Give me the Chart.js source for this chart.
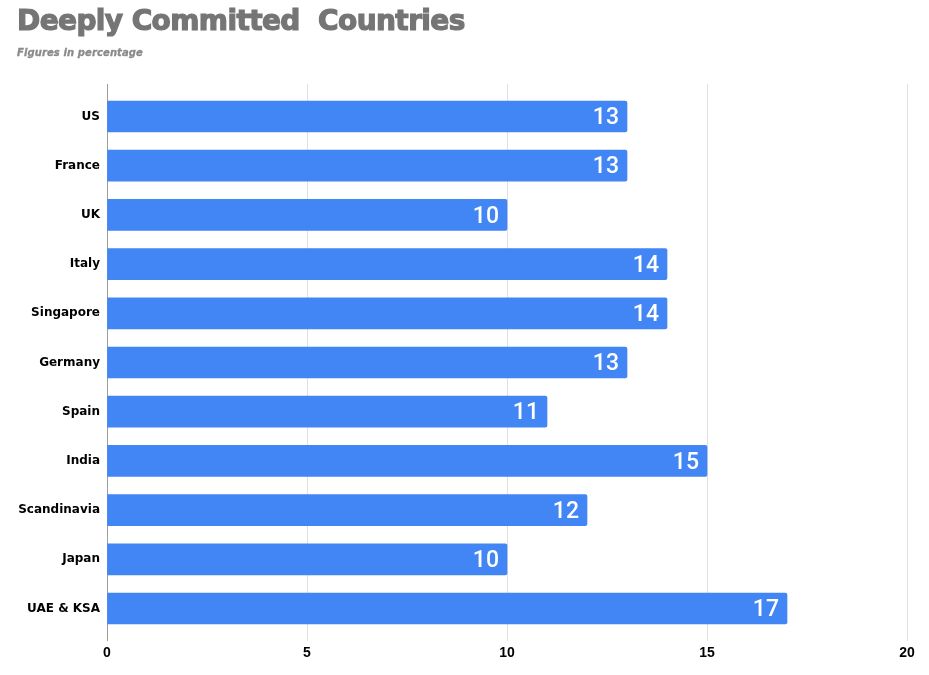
<!DOCTYPE html>
<html>
<head>
<meta charset="utf-8">
<script src="https://cdn.jsdelivr.net/npm/chart.js@4"></script>
<style>
    html, body { margin: 0; padding: 0; background: #fff; }
    #wrap { position: relative; width: 929px; height: 675px; }
    #title { position: absolute; left: 17px; top: 4px; font: bold 28px 'DejaVu Sans'; color: #757575; letter-spacing: -0.6px; white-space: pre; -webkit-text-stroke: 1.2px #757575; }
    #subtitle { position: absolute; left: 17px; top: 47px; font: italic bold 10px 'DejaVu Sans'; color: #8a8a8a; letter-spacing: 0.1px; -webkit-text-stroke: 0.3px #8a8a8a; }
    canvas { position: absolute; left: 0; top: 0; }
</style>
</head>
<body>
<div id="wrap">
    <canvas id="chart" width="929" height="675"></canvas>
    <div id="title">Deeply Committed  Countries</div>
    <div id="subtitle">Figures in percentage</div>
</div>
<script>
// chart data
const categories = ['US', 'France', 'UK', 'Italy', 'Singapore', 'Germany', 'Spain', 'India', 'Scandinavia', 'Japan', 'UAE & KSA'];
const values = [13, 13, 10, 14, 14, 13, 11, 15, 12, 10, 17];
const xTicks = [0, 5, 10, 15, 20];

// white value labels at the inner end of each bar
const barLabels = {
    id: 'barLabels',
    afterDatasetsDraw(chart) {
        const ctx = chart.ctx;
        const meta = chart.getDatasetMeta(0);
        ctx.save();
        ctx.fillStyle = '#fff';
        ctx.font = '500 23px Roboto';
        ctx.textAlign = 'right';
        ctx.textBaseline = 'middle';
        meta.data.forEach((bar, i) => {
            ctx.fillText(values[i], bar.x - 8, bar.y + 2);
        });
        ctx.restore();
    }
};

new Chart(document.getElementById('chart'), {
    type: 'bar',
    data: {
        datasets: [{
            data: categories.map((c, i) => ({ x: values[i], y: i })),
            backgroundColor: '#4285f4',
            borderWidth: 0,
            borderRadius: 2,
            borderSkipped: 'left',
            barThickness: 31
        }]
    },
    options: {
        indexAxis: 'y',
        responsive: false,
        animation: false,
        layout: { padding: { left: 0, right: 22, top: 84, bottom: 0 } },
        plugins: { legend: { display: false }, tooltip: { enabled: false } },
        scales: {
            x: {
                type: 'linear',
                min: 0,
                max: 20,
                afterBuildTicks: scale => { scale.ticks = xTicks.map(v => ({ value: v })); },
                afterFit: scale => { scale.height = 34; },
                border: { display: false },
                grid: {
                    drawTicks: false,
                    color: c => c.tick && c.tick.value === 0 ? '#9e9e9e' : '#e0e0e0',
                    lineWidth: 1
                },
                ticks: { color: '#000', padding: 4, font: { family: "'Liberation Sans Narrow', 'Liberation Sans'", weight: 'bold', size: 14 } }
            },
            y: {
                type: 'linear',
                reverse: true,
                offset: false,
                min: -0.66,
                max: 10.66,
                afterBuildTicks: scale => { scale.ticks = categories.map((c, i) => ({ value: i })); },
                afterFit: scale => { scale.width = 107; },
                border: { display: false },
                grid: { display: false, drawTicks: false, offset: false },
                ticks: {
                    autoSkip: false,
                    padding: 7,
                    color: '#000',
                    font: { family: 'DejaVu Sans', weight: 'bold', size: 12 },
                    callback: v => categories[v]
                }
            }
        }
    },
    plugins: [barLabels]
});
</script>
</body>
</html>
